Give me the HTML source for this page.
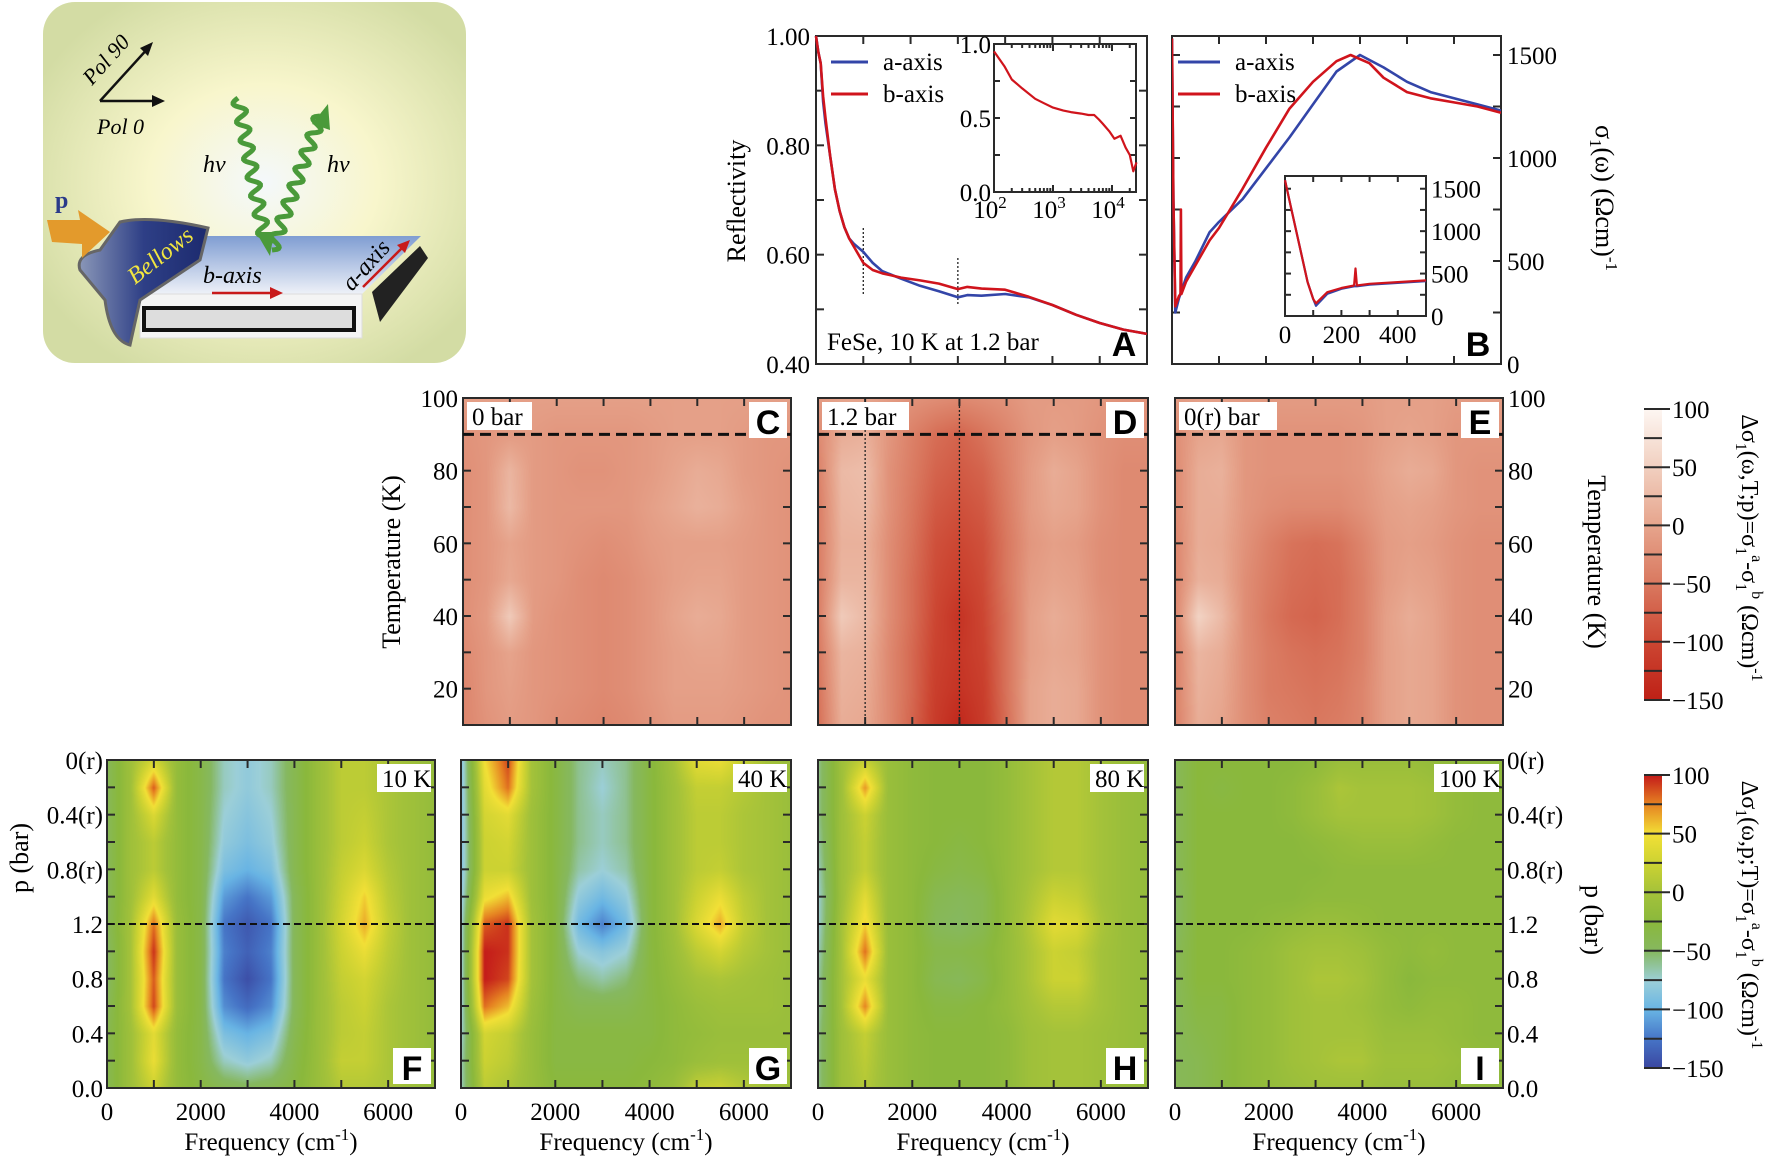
<!DOCTYPE html>
<html><head><meta charset="utf-8"><title>FeSe anisotropy figure</title>
<style>
body{margin:0;width:1772px;height:1162px;background:#fff;position:relative;overflow:hidden}
#cv,#sv{position:absolute;left:0;top:0}
</style></head>
<body>
<canvas id="cv" width="1772" height="1162"></canvas>
<svg id="sv" width="1772" height="1162" xmlns="http://www.w3.org/2000/svg" font-family="Liberation Serif, serif">
<defs>
<radialGradient id="bgGrad" cx="0.52" cy="0.5" r="0.6">
<stop offset="0" stop-color="#f4f8fb"/><stop offset="0.45" stop-color="#f8f6cc"/><stop offset="1" stop-color="#d3dca4"/>
</radialGradient>
<linearGradient id="slabGrad" x1="0" y1="0" x2="0" y2="1">
<stop offset="0" stop-color="#7f9dd2"/><stop offset="1" stop-color="#eef1f8"/>
</linearGradient>
<linearGradient id="bellGrad" x1="0" y1="0" x2="1" y2="0">
<stop offset="0" stop-color="#8a97b8"/><stop offset="0.5" stop-color="#2e3f86"/><stop offset="1" stop-color="#1c2a6e"/>
</linearGradient>
</defs>
<g id="schem">
<rect x="43" y="2" width="423" height="361" rx="32" fill="url(#bgGrad)"/>
<g stroke="#111" stroke-width="2.5" fill="none">
<path d="M100 101 L150 46"/><path d="M100 101 L160 101"/>
</g>
<path d="M153 42 L140 48 L148 56 Z" fill="#111"/>
<path d="M165 101 L152 95 L152 107 Z" fill="#111"/>
<text x="0" y="0" transform="translate(92 86) rotate(-48)" font-style="italic" font-size="22">Pol 90</text>
<text x="97" y="134" font-style="italic" font-size="22">Pol 0</text>
<text x="203" y="172" font-style="italic" font-size="24">hν</text>
<text x="327" y="172" font-style="italic" font-size="24">hν</text>
<polygon points="205,236 421,236 362,294 140,294" fill="url(#slabGrad)"/>
<rect x="140" y="294" width="222" height="44" fill="#f4f4f4" stroke="#ddd"/>
<rect x="144" y="308" width="210" height="22" fill="#ddd" stroke="#111" stroke-width="4"/>
<polygon points="372,292 420,246 428,258 380,322" fill="#222"/>
<path d="M120 222 Q150 215 208 228 L200 260 Q170 280 140 300 L130 345 Q110 340 105 300 L80 270 Q75 255 100 250 Z" fill="url(#bellGrad)" stroke="#666" stroke-width="3"/>
<text x="0" y="0" transform="translate(135 285) rotate(-38)" font-style="italic" font-size="24" fill="#f2e640">Bellows</text>
<polygon points="47,220 80,220 78,210 110,232 82,258 82,244 52,242" fill="#e39a2c"/>
<text x="55" y="208" font-weight="bold" font-size="24" fill="#2a3a8a">p</text>
<text x="203" y="283" font-style="italic" font-size="24">b-axis</text>
<path d="M212 293 L275 293" stroke="#c81a1a" stroke-width="2.5"/>
<path d="M283 293 L270 287 L270 299 Z" fill="#c81a1a"/>
<text x="0" y="0" transform="translate(352 292) rotate(-48)" font-style="italic" font-size="24">a-axis</text>
<path d="M363 287 L404 246" stroke="#c81a1a" stroke-width="2.5"/>
<path d="M410 240 L397 245 L405 253 Z" fill="#c81a1a"/>
</g>
</svg>
<script>
// ---------- data ----------
const freqCols=[0,500,1000,1500,2000,2500,3000,3500,4000,4500,5000,5500,6000,6500,7000];
const pressureRows=['0(r)','0.2(r)','0.4(r)','0.6(r)','0.8(r)','1.0(r)','1.2','1.0','0.8','0.6','0.4','0.2','0.0'];
const pressureTickLabels=['0(r)','','0.4(r)','','0.8(r)','','1.2','','0.8','','0.4','','0.0'];
const tempRows=[100,90,80,70,60,50,40,30,20,10];
const tempTicks=[20,40,60,80,100];
const freqTicks=[0,1000,2000,3000,4000,5000,6000,7000];
const freqTickLabels=['0','','2000','','4000','','6000',''];

const heatF=[
[-45,-5,30,-15,-35,-70,-80,-70,-40,-10,15,15,5,-5,-15],
[-45,-5,85,-15,-35,-70,-80,-70,-40,-10,15,15,5,-5,-15],
[-45,-5,35,-15,-35,-75,-85,-75,-40,-10,15,20,5,-5,-15],
[-45,-5,15,-15,-35,-80,-90,-80,-40,-10,15,25,5,-5,-15],
[-45,-5,15,-15,-35,-90,-100,-90,-40,-10,20,35,10,-5,-15],
[-45,-5,40,-15,-35,-110,-125,-110,-45,-10,25,55,15,-5,-15],
[-45,0,80,-10,-35,-125,-140,-125,-45,-10,30,65,20,-5,-15],
[-50,0,95,-10,-35,-120,-135,-120,-45,-10,25,45,15,-5,-15],
[-50,0,85,-10,-35,-125,-145,-125,-45,-10,20,30,10,-5,-15],
[-45,0,90,-10,-35,-115,-130,-115,-45,-10,15,25,5,-5,-15],
[-40,-5,40,-15,-35,-90,-100,-90,-40,-10,15,20,5,-5,-15],
[-40,-5,45,-15,-35,-70,-80,-70,-35,-10,20,20,5,-5,-15],
[-40,-5,25,-15,-30,-40,-45,-40,-30,-10,10,10,5,-5,-15]];
const heatG=[
[-90,50,90,0,-30,-60,-70,-60,-30,0,40,45,20,0,-10],
[-90,40,80,0,-30,-60,-75,-60,-30,-5,20,20,10,0,-10],
[-90,30,40,-5,-30,-60,-70,-60,-30,-5,15,15,5,0,-10],
[-90,25,30,-5,-30,-60,-70,-60,-30,-5,15,15,5,0,-10],
[-90,25,25,-5,-30,-65,-75,-65,-30,-5,15,20,5,0,-10],
[-85,45,60,-5,-30,-80,-95,-80,-30,-5,25,45,15,0,-10],
[-80,85,95,0,-30,-95,-120,-95,-30,-5,35,65,20,0,-10],
[-80,100,95,0,-30,-75,-85,-75,-30,-10,15,30,10,0,-10],
[-80,100,90,0,-30,-55,-65,-55,-30,-15,0,5,0,-5,-10],
[-80,80,60,-5,-30,-40,-40,-40,-30,-20,-10,-5,-5,-5,-10],
[-75,30,20,-10,-30,-30,-30,-30,-30,-20,-15,-10,-10,-10,-10],
[-70,25,15,-10,-30,-30,-30,-30,-25,-20,-10,-5,-5,-5,-10],
[-70,15,5,-10,-25,-25,-25,-25,-20,-10,20,25,10,0,-5]];
const heatH=[
[-60,-5,20,-10,-20,-25,-25,-25,-15,0,10,10,0,-10,-15],
[-60,-5,70,-10,-20,-25,-25,-25,-15,0,10,10,0,-10,-15],
[-60,-5,25,-10,-20,-25,-25,-25,-15,0,10,10,0,-10,-15],
[-65,-5,20,-10,-20,-25,-30,-25,-15,0,10,10,0,-10,-15],
[-70,-5,20,-10,-20,-30,-35,-30,-15,0,10,10,0,-10,-15],
[-75,-5,40,-10,-20,-40,-45,-40,-15,5,25,20,0,-10,-15],
[-75,0,55,-10,-20,-45,-50,-40,-15,10,40,35,5,-10,-15],
[-70,0,80,-10,-20,-35,-35,-30,-15,5,25,20,0,-10,-15],
[-65,0,45,-10,-20,-40,-45,-35,-15,5,25,25,0,-10,-15],
[-65,0,75,-10,-20,-30,-30,-25,-15,0,10,10,0,-10,-15],
[-60,-5,20,-10,-20,-25,-25,-25,-20,-5,0,0,-5,-10,-15],
[-60,-5,15,-10,-20,-25,-25,-25,-20,-5,0,0,-5,-10,-15],
[-60,-5,10,-10,-20,-25,-25,-25,-20,-5,0,0,-5,-10,-15]];
const heatI=[
[-45,-25,-25,-25,-25,-25,-20,-10,-10,-10,-10,-15,-20,-20,-20],
[-45,-25,-30,-25,-25,-20,-10,5,0,0,0,-5,-15,-20,-20],
[-45,-25,-25,-25,-25,-20,-10,0,0,0,0,-5,-15,-20,-20],
[-45,-25,-25,-25,-25,-25,-20,-15,-10,-10,-10,-15,-20,-20,-20],
[-45,-25,-25,-25,-25,-25,-25,-20,-20,-20,-20,-20,-20,-20,-20],
[-50,-25,-25,-25,-25,-25,-20,-20,-20,-20,-20,-20,-20,-20,-20],
[-50,-25,-25,-25,-20,-15,-10,-10,-15,-20,-20,-20,-20,-20,-20],
[-45,-25,-25,-20,-15,-5,0,0,-5,-15,-20,-15,-20,-20,-20],
[-45,-25,-25,-20,-15,-5,5,5,0,-15,-25,-20,-20,-20,-20],
[-45,-30,-30,-20,-15,-5,0,0,-5,-15,-20,-15,-15,-20,-20],
[-45,-35,-30,-20,-15,-5,0,0,0,-10,-10,-10,-15,-20,-20],
[-45,-40,-30,-20,-15,-5,0,5,5,-5,-5,-5,-10,-15,-20],
[-45,-40,-30,-20,-15,-10,-5,-5,-5,-10,-10,-10,-15,-20,-20]];
const heatC=[
[-5,-5,-5,-5,-5,-5,-5,-5,-5,-5,-5,-5,-5,-5,-5],
[-20,-15,-10,-10,-15,-15,-15,-15,-10,-5,-5,-5,-10,-15,-15],
[-25,-15,20,-10,-15,-20,-20,-15,-10,0,10,5,-10,-15,-20],
[-25,-15,25,-10,-15,-15,-15,-15,-5,5,15,10,-5,-15,-20],
[-25,-15,0,-10,-15,-20,-25,-20,-10,-5,-5,-5,-10,-15,-20],
[-25,-15,5,-10,-15,-25,-30,-25,-15,-5,0,0,-10,-15,-20],
[-25,-10,45,-10,-20,-25,-30,-25,-15,0,10,5,-10,-15,-20],
[-30,-15,0,-15,-20,-25,-30,-25,-15,-5,0,0,-10,-15,-20],
[-35,-15,-5,-15,-20,-25,-30,-25,-15,-5,-5,-5,-10,-15,-20],
[-35,-20,-10,-15,-25,-30,-35,-30,-20,-10,-10,-10,-15,-20,-20]];
const heatD=[
[-10,0,0,-10,-20,-25,-30,-25,-20,-10,-10,-10,-15,-20,-20],
[-30,10,15,-15,-40,-60,-70,-55,-35,-15,-5,-10,-20,-25,-25],
[-40,25,30,-20,-45,-70,-80,-70,-40,-10,10,0,-20,-30,-30],
[-45,20,25,-20,-50,-80,-90,-80,-45,-10,5,0,-20,-30,-30],
[-45,15,15,-25,-55,-90,-100,-90,-50,-15,-5,-10,-25,-30,-30],
[-45,20,20,-25,-60,-95,-110,-95,-50,-10,0,-5,-25,-30,-30],
[-45,45,25,-25,-60,-100,-125,-100,-55,-5,10,0,-20,-30,-30],
[-50,20,15,-30,-65,-105,-120,-105,-55,-5,5,0,-20,-30,-30],
[-55,15,10,-30,-65,-110,-125,-110,-55,0,10,5,-20,-30,-30],
[-60,10,5,-30,-70,-115,-140,-115,-60,0,10,5,-20,-30,-30]];
const heatE=[
[-10,-5,-5,-10,-10,-10,-10,-10,-10,-5,-5,-5,-10,-10,-10],
[-25,0,5,-15,-20,-20,-20,-20,-15,-5,0,-5,-15,-15,-15],
[-30,10,15,-15,-20,-20,-20,-20,-15,0,10,5,-15,-20,-20],
[-30,10,10,-15,-25,-30,-30,-30,-20,-5,0,-5,-15,-20,-20],
[-35,10,5,-20,-40,-55,-60,-55,-35,-10,-5,-10,-20,-25,-25],
[-35,15,10,-25,-45,-60,-65,-60,-40,-10,0,-5,-20,-25,-25],
[-35,55,25,-25,-50,-65,-70,-60,-40,-5,10,0,-20,-25,-25],
[-40,20,10,-25,-45,-55,-60,-55,-40,-5,5,0,-20,-25,-25],
[-40,15,5,-25,-45,-50,-55,-50,-35,-5,5,0,-20,-25,-25],
[-40,10,0,-25,-40,-45,-50,-45,-35,-5,5,0,-20,-25,-25]];

// Panel A reflectivity
const reflFreq=[0,50,100,150,200,300,400,500,600,700,800,1000,1200,1400,1800,2200,2600,3000,3200,3500,4000,4500,5000,5500,6000,6500,7000];
const reflA=[1.0,0.97,0.95,0.88,0.84,0.78,0.72,0.68,0.65,0.63,0.62,0.605,0.585,0.57,0.556,0.543,0.533,0.522,0.526,0.525,0.528,0.522,0.508,0.49,0.475,0.463,0.455];
const reflB=[1.0,0.97,0.95,0.89,0.85,0.78,0.72,0.68,0.65,0.63,0.615,0.585,0.572,0.566,0.558,0.553,0.547,0.537,0.541,0.538,0.536,0.523,0.508,0.49,0.475,0.463,0.455];
const insetAFreq=[100,150,200,300,500,700,1000,1500,2000,3000,4000,5000,6000,7000,9000,11000,14000,17000,20000,23000,26000];
const insetAR=[0.95,0.85,0.76,0.7,0.63,0.6,0.57,0.55,0.54,0.53,0.52,0.52,0.49,0.46,0.41,0.36,0.38,0.3,0.25,0.14,0.2];
// Panel B conductivity
const condFreqA=[0,30,70,150,300,500,800,1000,1500,2000,2500,3000,3500,4000,4500,5000,5500,6000,6500,7000];
const condA=[1580,800,250,320,420,500,640,690,800,950,1100,1260,1420,1500,1440,1370,1320,1290,1260,1230];
const condFreqB=[0,30,70,150,180,190,200,300,500,800,1000,1500,2000,2500,3000,3500,3800,4200,4500,5000,5500,6000,6500,7000];
const condB=[1580,800,280,330,340,750,340,400,480,600,660,850,1050,1240,1370,1470,1500,1460,1390,1320,1290,1270,1250,1220];
const insetBFreq=[0,20,50,80,100,110,150,200,245,250,255,300,400,500];
const insetBCondB=[1600,1300,850,400,200,150,280,330,360,560,360,380,400,420];
const insetBCondA=[1600,1300,850,400,200,120,260,320,350,350,350,370,390,410];
const colorbarRedTicks=[100,50,0,-50,-100,-150];
const colorbarJetTicks=[100,50,0,-50,-100,-150];

// ---------- helpers ----------
const NS='http://www.w3.org/2000/svg';
const svg=document.getElementById('sv');
const ctx=document.getElementById('cv').getContext('2d');
function mk(tag,attrs,parent){const e=document.createElementNS(NS,tag);for(const k in attrs)e.setAttribute(k,attrs[k]);(parent||svg).appendChild(e);return e;}
function txt(parent,x,y,s,size,anchor,extra){const t=mk('text',Object.assign({x:x,y:y,'font-size':size||25,'text-anchor':anchor||'start'},extra||{}),parent);t.textContent=s;return t;}
function hex(h){return [parseInt(h.substr(1,2),16),parseInt(h.substr(3,2),16),parseInt(h.substr(5,2),16)];}
const redStops=[[-150,'#be2016'],[-100,'#cc4632'],[-50,'#d9785f'],[0,'#e6a48c'],[50,'#f1cfbf'],[100,'#fdf6f2']].map(s=>[s[0],hex(s[1])]);
const jetStops=[[-150,'#3a46a0'],[-125,'#4674c6'],[-100,'#68b4e4'],[-75,'#9ccfd8'],[-50,'#86b860'],[-25,'#8ab83c'],[0,'#a4c23a'],[25,'#ccd232'],[50,'#f2e036'],[75,'#e68422'],[100,'#c41c1a']].map(s=>[s[0],hex(s[1])]);
function cmap(stops,v){if(v<=stops[0][0])return stops[0][1];for(let i=1;i<stops.length;i++){if(v<=stops[i][0]){const a=stops[i-1],b=stops[i];const t=(v-a[0])/(b[0]-a[0]);return [0,1,2].map(k=>a[1][k]+(b[1][k]-a[1][k])*t);}}return stops[stops.length-1][1];}
function bil(M,r,c){const nr=M.length,nc=M[0].length;r=Math.max(0,Math.min(nr-1,r));c=Math.max(0,Math.min(nc-1,c));const r0=Math.floor(r),c0=Math.floor(c),r1=Math.min(nr-1,r0+1),c1=Math.min(nc-1,c0+1);const fr=r-r0,fc=c-c0;return M[r0][c0]*(1-fr)*(1-fc)+M[r0][c1]*(1-fr)*fc+M[r1][c0]*fr*(1-fc)+M[r1][c1]*fr*fc;}
function drawHeat(M,box,stops,rowPos){
  const w=box.R-box.L,h=box.B-box.T;const img=ctx.createImageData(w,h);
  const fmax=freqCols[freqCols.length-1];
  for(let y=0;y<h;y++){const r=rowPos(y/h);for(let x=0;x<w;x++){const f=(x+0.5)/w*fmax;const c=f/(freqCols[1]-freqCols[0]);const col=cmap(stops,bil(M,r,c));const i=(y*w+x)*4;img.data[i]=col[0];img.data[i+1]=col[1];img.data[i+2]=col[2];img.data[i+3]=255;}}
  ctx.putImageData(img,box.L,box.T);
}
function frame(g,box){const r=mk('rect',{x:box.L,y:box.T,width:box.R-box.L,height:box.B-box.T,fill:'none',stroke:'#2a2a2a','stroke-width':2},g);}
function tickLine(g,x1,y1,x2,y2){const l=mk('line',{x1:x1,y1:y1,x2:x2,y2:y2,stroke:'#2a2a2a','stroke-width':2},g);}
function label(g,box,s,pos){
  const fs=25;const w=s.length*11+10;const x=pos==='left'?box.L+4:box.R-w-4;const y=box.T+4;
  const r=mk('rect',{x:x,y:y,width:w,height:28,fill:'#fff'},g);
  const t=txt(g,x+5,y+23,s,fs);}
function letter(g,box,s,pos,nobg){const y=pos==='top'?box.T+4:box.B-40;
  if(!nobg){const r=mk('rect',{x:box.R-42,y:y,width:38,height:36,fill:'#fff'},g);}
  const t=txt(g,box.R-23,y+32,s,34,'middle',{'font-family':'Liberation Sans, sans-serif','font-weight':'bold'});}
function polyline(g,xs,ys,sx,sy,color,w){const pts=xs.map((x,i)=>sx(x).toFixed(1)+','+sy(ys[i]).toFixed(1)).join(' ');return mk('polyline',{points:pts,fill:'none',stroke:color,'stroke-width':w||2.6,'stroke-linejoin':'round'},g);}
function freqTitle(g,cx,y){const t=txt(g,cx,y,'Frequency (cm',25,'middle');const s=mk('tspan',{dy:-10,'font-size':17},t);s.textContent='-1';const s2=mk('tspan',{dy:10},t);s2.textContent=')';}

// ---------- schematic photons ----------
(function(){
  const sg=document.getElementById('schem');
  function wave(x0,y0,x1,y1,amp,n){const dx=x1-x0,dy=y1-y0,len=Math.hypot(dx,dy),ux=dx/len,uy=dy/len,px=-uy,py=ux;let d='';for(let i=0;i<=120;i++){const t=i/120;const s=amp*Math.sin(t*n*2*Math.PI);const x=x0+dx*t+px*s,y=y0+dy*t+py*s;d+=(i?'L':'M')+x.toFixed(1)+' '+y.toFixed(1);}return d;}
  const p1=mk('path',{d:wave(238,98,266,246,6,8),stroke:'#4a9a3a','stroke-width':5,fill:'none'},sg);
  
  
  const h1=mk('path',{d:'M270 256 L256 232 L274 232 Z',fill:'#4a9a3a'},sg);
  
  
  const p2=mk('path',{d:wave(272,250,320,116,6,8),stroke:'#4a9a3a','stroke-width':5,fill:'none'},sg);
  
  
  const h2=mk('path',{d:'M328 104 L312 124 L330 130 Z',fill:'#4a9a3a'},sg);
  
  
})();

// ---------- bottom heatmaps F-I ----------
const bottomBoxes=[{L:107,R:435,T:760,B:1088,M:heatF,lab:'10 K',let:'F'},{L:461,R:791,T:760,B:1088,M:heatG,lab:'40 K',let:'G'},{L:818,R:1148,T:760,B:1088,M:heatH,lab:'80 K',let:'H'},{L:1175,R:1503,T:760,B:1088,M:heatI,lab:'100 K',let:'I'}];
bottomBoxes.forEach((b,bi)=>{
  drawHeat(b.M,b,jetStops,t=>t*(pressureRows.length-1));
  const g=mk('g',{});
  
  
  frame(g,b);
  const sx=f=>b.L+f/7000*(b.R-b.L);const sy=i=>b.T+i/(pressureRows.length-1)*(b.B-b.T);
  freqTicks.forEach((f,i)=>{tickLine(g,sx(f),b.B,sx(f),b.B-8);tickLine(g,sx(f),b.T,sx(f),b.T+8);
    if(freqTickLabels[i]){const t=txt(g,sx(f),b.B+32,freqTickLabels[i],25,'middle');}});
  pressureRows.forEach((p,i)=>{tickLine(g,b.L,sy(i),b.L+8,sy(i));tickLine(g,b.R,sy(i),b.R-8,sy(i));
    if(bi===0&&pressureTickLabels[i]){const t=txt(g,b.L-4,sy(i)+9,pressureTickLabels[i],25,'end');}
    if(bi===3&&pressureTickLabels[i]){const t=txt(g,b.R+4,sy(i)+9,pressureTickLabels[i],25,'start');}});
  const dl=mk('line',{x1:b.L,x2:b.R,y1:sy(pressureRows.indexOf('1.2')),y2:sy(pressureRows.indexOf('1.2')),stroke:'#111','stroke-width':2,'stroke-dasharray':'7 4'},g);
  
  
  label(g,b,b.lab,'right');letter(g,b,b.let,'bottom');
  freqTitle(g,(b.L+b.R)/2,1150);
});
(function(){const t=txt(svg,0,0,'p (bar)',26,'middle',{transform:'translate(28 858) rotate(-90)'});
const t2=txt(svg,0,0,'p (bar)',26,'middle',{transform:'translate(1585 920) rotate(90)'});})();

// ---------- middle heatmaps C-E ----------
const midBoxes=[{L:463,R:791,T:398,B:725,M:heatC,lab:'0 bar',let:'C'},{L:818,R:1148,T:398,B:725,M:heatD,lab:'1.2 bar',let:'D'},{L:1175,R:1503,T:398,B:725,M:heatE,lab:'0(r) bar',let:'E'}];
midBoxes.forEach((b,bi)=>{
  drawHeat(b.M,b,redStops,t=>t*(tempRows.length-1));
  const g=mk('g',{});
  
  
  frame(g,b);
  const sx=f=>b.L+f/7000*(b.R-b.L);const sy=T=>b.T+(100-T)/90*(b.B-b.T);
  freqTicks.forEach(f=>{tickLine(g,sx(f),b.B,sx(f),b.B-8);tickLine(g,sx(f),b.T,sx(f),b.T+8);});
  [10,20,30,40,50,60,70,80,90,100].forEach(T=>{tickLine(g,b.L,sy(T),b.L+8,sy(T));tickLine(g,b.R,sy(T),b.R-8,sy(T));});
  tempTicks.forEach(T=>{
    if(bi===0){const t=txt(g,b.L-5,sy(T)+9,String(T),25,'end');}
    if(bi===2){const t=txt(g,b.R+5,sy(T)+9,String(T),25,'start');}});
  const dl=mk('line',{x1:b.L,x2:b.R,y1:sy(90),y2:sy(90),stroke:'#111','stroke-width':3,'stroke-dasharray':'11 6'},g);
  
  
  if(bi===1){[1000,3000].forEach(f=>{const l=mk('line',{x1:sx(f),x2:sx(f),y1:b.T,y2:b.B,stroke:'#222','stroke-width':1.3,'stroke-dasharray':'2 2'},g);});}
  label(g,b,b.lab,'left');letter(g,b,b.let,'top');
});
(function(){const t=txt(svg,0,0,'Temperature (K)',26,'middle',{transform:'translate(400 562) rotate(-90)'});
const t2=txt(svg,0,0,'Temperature (K)',26,'middle',{transform:'translate(1588 562) rotate(90)'});})();

// ---------- colorbars ----------
function colorbar(stops,top,bot,ticks,name){
  const g=mk('g',{});
  
  
  const L=1644,W=18;
  for(let y=top;y<bot;y++){const v=100-(y-top)/(bot-top)*250;const c=cmap(stops,v);const r=mk('rect',{x:L,y:y,width:W,height:1.2,fill:'rgb('+c.map(Math.round).join(',')+')'},g);}
  for(let v=100;v>=-150;v-=25){const y=top+(100-v)/250*(bot-top);tickLine(g,L,y,v%50===0?L+26:L+W,y);}
  ticks.forEach(v=>{const y=top+(100-v)/250*(bot-top);const t=txt(g,L+28,y+9,(v<0?'−':'')+Math.abs(v),25);});
  return g;
}
colorbar(redStops,409,700,colorbarRedTicks,'colorbar-temperature');
colorbar(jetStops,775,1068,colorbarJetTicks,'colorbar-pressure');
function cbTitle(cy,mid,name){const t=txt(svg,0,0,'Δσ',24,'middle',{transform:'translate(1742 '+cy+') rotate(90)'});
  const a=mk('tspan',{dy:6,'font-size':16},t);a.textContent='1';const b=mk('tspan',{dy:-6},t);b.textContent='(ω,'+mid+')=σ';
  const c=mk('tspan',{dy:6,'font-size':16},t);c.textContent='1';const d=mk('tspan',{dy:-16,'font-size':16},t);d.textContent='a';
  const e=mk('tspan',{dy:10},t);e.textContent='-σ';const f=mk('tspan',{dy:6,'font-size':16},t);f.textContent='1';
  const h=mk('tspan',{dy:-16,'font-size':16},t);h.textContent='b';const i=mk('tspan',{dy:10},t);i.textContent=' (Ωcm)';
  const j=mk('tspan',{dy:-10,'font-size':16},t);j.textContent='-1';
  }
cbTitle(548,'T;p','colorbar-title-temperature');
cbTitle(915,'p;T','colorbar-title-pressure');

// ---------- Panel A ----------
(function(){
  const b={L:816,R:1147,T:36,B:364};
  const g=mk('g',{});
  
  
  const sx=f=>b.L+f/7000*(b.R-b.L);const sy=r=>b.B-(r-0.4)/0.6*(b.B-b.T);
  frame(g,b);
  freqTicks.forEach(f=>{tickLine(g,sx(f),b.B,sx(f),b.B-8);tickLine(g,sx(f),b.T,sx(f),b.T+8);});
  [0.4,0.5,0.6,0.7,0.8,0.9,1.0].forEach(r=>{tickLine(g,b.L,sy(r),b.L+8,sy(r));tickLine(g,b.R,sy(r),b.R-8,sy(r));});
  ['1.00','0.80','0.60','0.40'].forEach(s=>{const t=txt(g,b.L-6,sy(parseFloat(s))+9,s,25,'end');});
  [[1000,228,296],[3000,258,305]].forEach(d=>{const l=mk('line',{x1:sx(d[0]),x2:sx(d[0]),y1:d[1],y2:d[2],stroke:'#222','stroke-width':1.3,'stroke-dasharray':'2 2'},g);});
  const la=polyline(g,reflFreq,reflA,sx,sy,'#3345a8');
  const lb=polyline(g,reflFreq,reflB,sx,sy,'#d0141c');
  const l1=mk('line',{x1:831,x2:868,y1:62,y2:62,stroke:'#3345a8','stroke-width':3},g);
  const t1=txt(g,883,70,'a-axis',25);
  const l2=mk('line',{x1:831,x2:868,y1:94,y2:94,stroke:'#d0141c','stroke-width':3},g);
  const t2=txt(g,883,102,'b-axis',25);
  const note=txt(g,827,350,'FeSe, 10 K at 1.2 bar',25);
  letter(g,b,'A','bottom',true);
  const yt=txt(svg,0,0,'Reflectivity',26,'middle',{transform:'translate(745 201) rotate(-90)'});
  const ib={L:994,R:1136,T:44,B:192};
  const ig=mk('g',{},g);
  
  
  const r=mk('rect',{x:ib.L,y:ib.T,width:ib.R-ib.L,height:ib.B-ib.T,fill:'#fff'},ig);
  const ix=f=>ib.L+(Math.log10(f)-2)*59;const iy=v=>ib.B-v*(ib.B-ib.T);
  frame(ig,ib);
  [2,3,4].forEach(d=>{for(let m=1;m<10;m++){const f=m*Math.pow(10,d);if(ix(f)>ib.R)break;const len=m===1?7:4;tickLine(ig,ix(f),ib.B,ix(f),ib.B-len);tickLine(ig,ix(f),ib.T,ix(f),ib.T+len);}});
  [0,0.25,0.5,0.75,1].forEach(v=>{tickLine(ig,ib.L,iy(v),ib.L+6,iy(v));tickLine(ig,ib.R,iy(v),ib.R-6,iy(v));});
  ['1.0','0.5','0.0'].forEach(s=>{const t=txt(ig,ib.L-3,iy(parseFloat(s))+9,s,25,'end');});
  [2,3,4].forEach(d=>{const t=txt(ig,ix(Math.pow(10,d))-4,ib.B+26,'10',25,'middle');const s=mk('tspan',{dy:-10,'font-size':17},t);s.textContent=String(d);});
  const il=polyline(ig,insetAFreq,insetAR,ix,iy,'#d0141c',2.2);
})();

// ---------- Panel B ----------
(function(){
  const b={L:1172,R:1501,T:36,B:364};
  const g=mk('g',{});
  
  
  const sx=f=>b.L+f/7000*(b.R-b.L);const sy=v=>b.B-v/1500*(b.B-55);
  frame(g,b);
  freqTicks.forEach(f=>{tickLine(g,sx(f),b.B,sx(f),b.B-8);tickLine(g,sx(f),b.T,sx(f),b.T+8);});
  [0,250,500,750,1000,1250,1500].forEach(v=>{tickLine(g,b.L,sy(v),b.L+8,sy(v));tickLine(g,b.R,sy(v),b.R-8,sy(v));});
  ['1500','1000','500','0'].forEach(s=>{const t=txt(g,b.R+6,sy(parseFloat(s))+9,s,25);});
  const cl=mk('clipPath',{id:'clipB'},g);mk('rect',{x:b.L,y:b.T,width:b.R-b.L,height:b.B-b.T},cl);
  const lg=mk('g',{'clip-path':'url(#clipB)'},g);
  const la=polyline(lg,condFreqA,condA,sx,sy,'#3345a8');
  const lb=polyline(lg,condFreqB,condB,sx,sy,'#d0141c');
  const l1=mk('line',{x1:1178,x2:1220,y1:62,y2:62,stroke:'#3345a8','stroke-width':3},g);
  const t1=txt(g,1235,70,'a-axis',25);
  const l2=mk('line',{x1:1178,x2:1220,y1:94,y2:94,stroke:'#d0141c','stroke-width':3},g);
  const t2=txt(g,1235,102,'b-axis',25);
  letter(g,b,'B','bottom',true);
  const yt=txt(svg,0,0,'σ',26,'middle',{transform:'translate(1596 198) rotate(90)'});
  const s1=mk('tspan',{dy:6,'font-size':17},yt);s1.textContent='1';const s2=mk('tspan',{dy:-6},yt);s2.textContent='(ω) (Ωcm)';const s3=mk('tspan',{dy:-10,'font-size':17},yt);s3.textContent='-1';
  
  const ib={L:1285,R:1426,T:176,B:316};
  const ig=mk('g',{},g);
  
  
  const r=mk('rect',{x:ib.L,y:ib.T,width:ib.R-ib.L,height:ib.B-ib.T,fill:'#fff'},ig);
  const ix=f=>ib.L+f/500*(ib.R-ib.L);const iy=v=>ib.B-v/1650*(ib.B-ib.T);
  frame(ig,ib);
  [0,100,200,300,400,500].forEach(f=>{tickLine(ig,ix(f),ib.B,ix(f),ib.B-6);tickLine(ig,ix(f),ib.T,ix(f),ib.T+6);});
  [0,250,500,750,1000,1250,1500].forEach(v=>{tickLine(ig,ib.L,iy(v),ib.L+6,iy(v));tickLine(ig,ib.R,iy(v),ib.R-6,iy(v));});
  ['1500','1000','500','0'].forEach(s=>{const t=txt(ig,ib.R+5,iy(parseFloat(s))+9,s,25);});
  ['0','200','400'].forEach(s=>{const t=txt(ig,ix(parseFloat(s)),ib.B+27,s,25,'middle');});
  const ila=polyline(ig,insetBFreq,insetBCondA,ix,iy,'#3345a8',2.2);
  const il=polyline(ig,insetBFreq,insetBCondB,ix,iy,'#d0141c',2.2);
})();
</script>
</body></html>
